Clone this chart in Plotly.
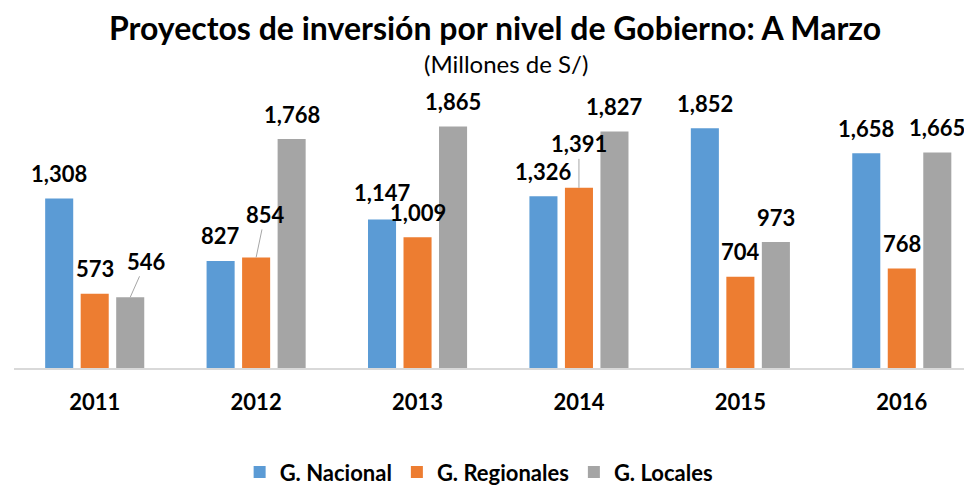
import plotly.graph_objects as go

years = ["2011", "2012", "2013", "2014", "2015", "2016"]
series_names = ["G. Nacional", "G. Regionales", "G. Locales"]
nacional = [1308, 827, 1147, 1326, 1852, 1658]
regionales = [573, 854, 1009, 1391, 704, 768]
locales = [546, 1768, 1865, 1827, 973, 1665]

colors = ["#5B9BD5", "#ED7D31", "#A5A5A5"]
values = [nacional, regionales, locales]

FONT = "Lato"
slot_px = 35.5
label_px = 22

fig = go.Figure()
for name, vals, col in zip(series_names, values, colors):
    fig.add_trace(go.Bar(x=years, y=vals, name=name, marker=dict(color=col, line=dict(width=0)),
                         hoverinfo="skip"))

# callout labels (series index, year index) -> pixel offset of text from bar top
callouts = {(2, 0): (16, -36), (1, 1): (9, -43), (1, 3): (0, -44)}
# small label nudges (series index, year index) -> pixel yshift
nudges = {(0, 2): 27}

annotations = []
for si, vals in enumerate(values):
    for yi, v in enumerate(vals):
        xs = (si - 1) * slot_px
        txt = f"{v:,}"
        common = dict(x=yi, y=v, xref="x", yref="y", text=txt, xshift=xs,
                      font=dict(family=FONT, size=label_px, color="#000000", weight="bold"))
        if (si, yi) in callouts:
            ax, ay = callouts[(si, yi)]
            annotations.append(dict(**common, showarrow=True, arrowhead=0, arrowwidth=1,
                                    arrowcolor="#A6A6A6", ax=ax, ay=ay, standoff=0))
        else:
            annotations.append(dict(**common, yshift=nudges.get((si, yi), 25), showarrow=False,
                                    yanchor="middle"))

annotations.append(dict(text="Proyectos de inversión por nivel de Gobierno: A Marzo", xref="paper", yref="paper",
                        x=0.5026, y=1, yanchor="middle", yshift=82, showarrow=False,
                        font=dict(family=FONT, size=32, color="#000000", weight="bold")))
annotations.append(dict(text="(Millones de S/)", xref="paper", yref="paper",
                        x=0.5136, y=1, yanchor="middle", yshift=46, showarrow=False,
                        font=dict(family=FONT, size=24, color="#000000")))

fig.update_layout(
    width=964, height=484,
    margin=dict(l=6, r=0, t=101.4, b=124, autoexpand=False),
    paper_bgcolor="white", plot_bgcolor="white",
    barmode="group", bargap=0.34, bargroupgap=0.21,
    showlegend=True,
    legend=dict(orientation="h", x=0.485, xanchor="center", y=-0.402, yanchor="middle",
                font=dict(family=FONT, size=22, color="#000000", weight="bold"),
                itemsizing="constant", traceorder="normal"),
    annotations=annotations,
    xaxis=dict(type="category", range=[-0.5, 5.435], showline=True, linecolor="#D9D9D9", linewidth=1.5,
               ticks="", showgrid=False, ticklabelstandoff=14,
               tickfont=dict(family=FONT, size=22, color="#000000", weight="bold")),
    yaxis=dict(range=[0, 2000], visible=False, showgrid=False, zeroline=False),
)

fig.write_html("out.html")
